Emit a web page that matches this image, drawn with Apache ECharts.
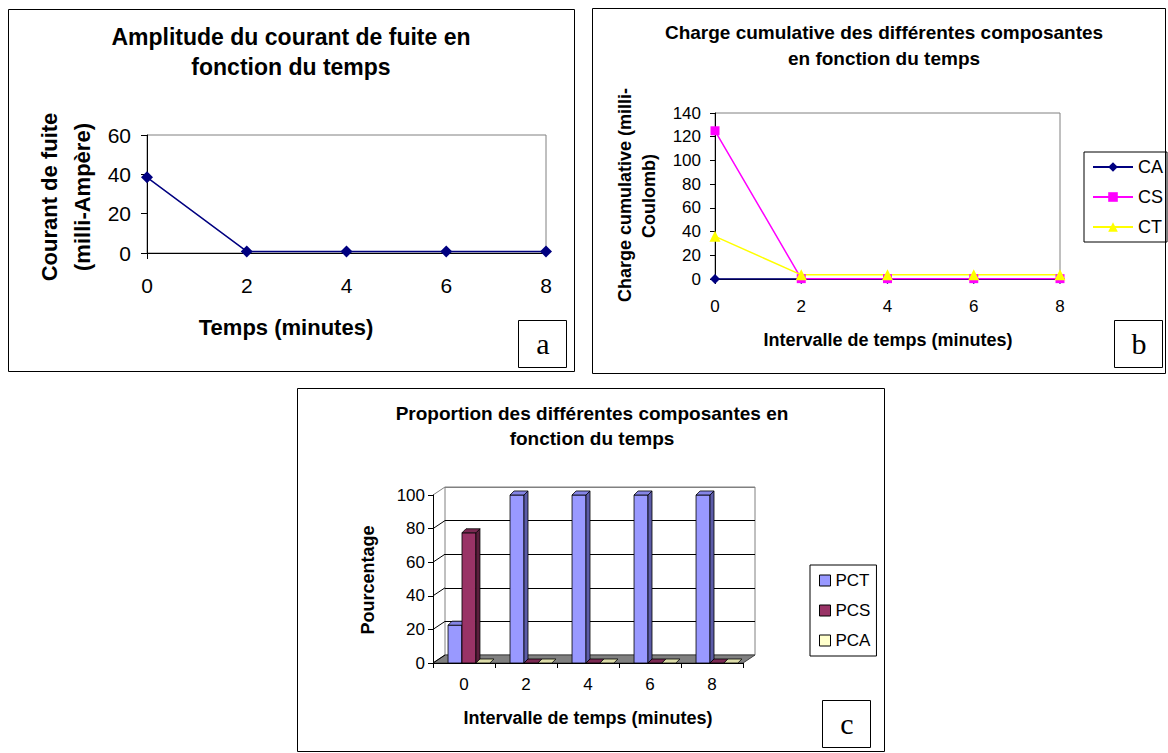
<!DOCTYPE html>
<html><head><meta charset="utf-8">
<script src="https://cdn.jsdelivr.net/npm/echarts@6/dist/echarts.min.js"></script>
<style>html,body{margin:0;padding:0;background:#fff}#c{width:1168px;height:753px}</style>
</head><body><div id="c"></div>
<script>
// ---------- data ----------
const timeLabels = ['0', '2', '4', '6', '8'];
const courantFuite = [38.5, 0.8, 0.8, 0.8, 0.8];
const chargeCA = [0, 0, 0, 0, 0];
const chargeCS = [125, 0.3, 0.3, 0.3, 0.3];
const chargeCT = [36, 3.5, 3.5, 3.5, 3.5];
const propPCT = [22.5, 100, 100, 100, 100];
const propPCS = [77.5, 0, 0, 0, 0];
const propPCA = [0, 0, 0, 0, 0];
const pctTicks = [0, 20, 40, 60, 80, 100];

// ---------- styles ----------
const FONT = '"Liberation Sans", Arial, sans-serif';
const SERIF = '"Liberation Serif", "Times New Roman", serif';
const DX = 12, DY = -8; // 3D wall offset

const chart = echarts.init(document.getElementById('c'), null, {renderer: 'svg'});

function txt(text, x, y, size, bold, rot, family) {
  return {
    type: 'text', x: x, y: y, rotation: rot || 0, z: 10,
    style: {
      text: text, font: (bold ? 'bold ' : '') + size + 'px ' + (family || FONT),
      textAlign: 'center', textVerticalAlign: 'middle', fill: '#000'
    }
  };
}
function box(x, y, w, h) {
  return {type: 'rect', z: 9, shape: {x: x, y: y, width: w, height: h},
    style: {fill: 'none', stroke: '#000', lineWidth: 1}};
}

function wallRender(params, api) {
  const v = api.value(1);
  const cs = params.coordSys;
  const y = api.coord([0, v])[1];
  const children = [];
  if (v === 0) {
    children.push({type: 'polygon', shape: {points: [[cs.x, y], [cs.x + cs.width, y], [cs.x + cs.width + DX, y + DY], [cs.x + DX, y + DY]]},
      style: {fill: '#808080', stroke: '#404040', lineWidth: 1}});
  }
  children.push({type: 'line', shape: {x1: cs.x, y1: y, x2: cs.x + DX, y2: y + DY},
    style: {stroke: v === 100 ? '#808080' : '#000', lineWidth: 1}});
  return {type: 'group', children: children};
}

function barRender(k, col) {
  return function (params, api) {
    const ci = api.value(0), v = api.value(1);
    const base = api.coord([ci, 0]), top = api.coord([ci, v]);
    const band = api.size([1, 0])[0];
    const bw = band * 0.225, d = band * 0.065, shift = band * 0.08;
    const x0 = base[0] - 1.5 * bw + k * bw + shift;
    const yb = base[1], yt = top[1];
    const children = [];
    if (yb - yt > 0.5) {
      children.push({type: 'rect', shape: {x: x0, y: yt, width: bw, height: yb - yt},
        style: {fill: col.front, stroke: '#000', lineWidth: 0.8}});
      children.push({type: 'polygon', shape: {points: [[x0 + bw, yt], [x0 + bw + d, yt - d], [x0 + bw + d, yb - d], [x0 + bw, yb]]},
        style: {fill: col.side, stroke: '#000', lineWidth: 0.8}});
    }
    children.push({type: 'polygon', shape: {points: [[x0, yt], [x0 + d, yt - d], [x0 + bw + d, yt - d], [x0 + bw, yt]]},
      style: {fill: col.top, stroke: '#000', lineWidth: 0.8}});
    return {type: 'group', children: children};
  };
}

const colPCT = {front: '#9999FF', side: '#5C5CA8', top: '#8585E6'};
const colPCS = {front: '#993366', side: '#5A1E3C', top: '#7A2952'};
const colPCA = {front: '#FFFFCC', side: '#A8A880', top: '#DDDDAA'};

const axisBlack = {show: true, lineStyle: {color: '#000', width: 1}};

const option = {
  backgroundColor: '#fff',
  animation: false,
  textStyle: {fontFamily: FONT, color: '#000'},
  grid: [
    {left: 147, top: 135, width: 399, height: 118, show: true, borderColor: '#808080', borderWidth: 1, backgroundColor: 'transparent'},
    {left: 715, top: 113, width: 345, height: 166, show: true, borderColor: '#808080', borderWidth: 1},
    {left: 433, top: 495, width: 310, height: 168},
    {left: 433 + DX, top: 495 + DY, width: 310, height: 168, show: true, borderColor: '#808080', borderWidth: 1}
  ],
  xAxis: [
    {gridIndex: 0, type: 'category', data: timeLabels, boundaryGap: false, axisLine: axisBlack,
      axisTick: {show: true, length: 6, interval: function (i) { return i === 0; }, lineStyle: {color: '#000'}},
      axisLabel: {fontSize: 21, color: '#000', margin: 22}},
    {gridIndex: 1, type: 'category', data: timeLabels, boundaryGap: false, axisLine: axisBlack,
      axisTick: {show: true, length: 5, interval: function (i) { return i === 0; }, lineStyle: {color: '#000'}},
      axisLabel: {fontSize: 17, color: '#000', margin: 19}},
    {gridIndex: 2, type: 'category', data: timeLabels, boundaryGap: true, axisLine: axisBlack,
      axisTick: {show: true, length: 5, lineStyle: {color: '#000'}},
      axisLabel: {fontSize: 17, color: '#000', margin: 13}, z: 5},
    {gridIndex: 3, type: 'category', data: timeLabels, show: false}
  ],
  yAxis: [
    {gridIndex: 0, type: 'value', min: 0, max: 60, interval: 20, axisLine: axisBlack,
      axisTick: {show: true, length: 6, lineStyle: {color: '#000'}}, splitLine: {show: false},
      axisLabel: {fontSize: 21, color: '#000', margin: 16}},
    {gridIndex: 1, type: 'value', min: 0, max: 140, interval: 20, axisLine: axisBlack,
      axisTick: {show: true, length: 5, lineStyle: {color: '#000'}}, splitLine: {show: false},
      axisLabel: {fontSize: 17, color: '#000', margin: 14}},
    {gridIndex: 2, type: 'value', min: 0, max: 100, interval: 20, axisLine: axisBlack,
      axisTick: {show: true, length: 5, lineStyle: {color: '#000'}}, splitLine: {show: false},
      axisLabel: {fontSize: 17, color: '#000', margin: 8}, z: 5},
    {gridIndex: 3, type: 'value', min: 0, max: 100, interval: 20, axisLine: {show: false},
      axisTick: {show: false}, axisLabel: {show: false},
      splitLine: {show: true, lineStyle: {color: ['#808080', '#000', '#000', '#000', '#000', '#808080'], width: 1}}}
  ],
  legend: [
    {data: ['CA', 'CS', 'CT'], orient: 'vertical', left: 1084, top: 152, width: 80,
      backgroundColor: '#fff', borderColor: '#000', borderWidth: 1, padding: [6, 4, 6, 8],
      itemGap: 12, itemWidth: 40, itemHeight: 12, selectedMode: false,
      textStyle: {fontSize: 18, color: '#000', fontFamily: FONT}},
    {data: [
        {name: 'PCT', icon: 'rect', itemStyle: {color: colPCT.front, borderColor: '#000', borderWidth: 1}},
        {name: 'PCS', icon: 'rect', itemStyle: {color: colPCS.front, borderColor: '#000', borderWidth: 1}},
        {name: 'PCA', icon: 'rect', itemStyle: {color: colPCA.front, borderColor: '#000', borderWidth: 1}}
      ], orient: 'vertical', left: 810, top: 565,
      backgroundColor: '#fff', borderColor: '#000', borderWidth: 1, padding: [7, 6, 7, 9],
      itemGap: 13, itemWidth: 11, itemHeight: 11, selectedMode: false,
      textStyle: {fontSize: 17, color: '#000', fontFamily: FONT}}
  ],
  series: [
    {name: 'Courant', type: 'line', xAxisIndex: 0, yAxisIndex: 0, data: courantFuite,
      symbol: 'diamond', symbolSize: 12, lineStyle: {color: '#000080', width: 1.5},
      itemStyle: {color: '#000080'}},
    {name: 'CA', type: 'line', xAxisIndex: 1, yAxisIndex: 1, data: chargeCA,
      symbol: 'diamond', symbolSize: 10, lineStyle: {color: '#000080', width: 1.5},
      itemStyle: {color: '#000080'}},
    {name: 'CS', type: 'line', xAxisIndex: 1, yAxisIndex: 1, data: chargeCS,
      symbol: 'rect', symbolSize: 9, lineStyle: {color: '#FF00FF', width: 1.5},
      itemStyle: {color: '#FF00FF'}},
    {name: 'CT', type: 'line', xAxisIndex: 1, yAxisIndex: 1, data: chargeCT,
      symbol: 'triangle', symbolSize: 11, lineStyle: {color: '#FFFF00', width: 1.5},
      itemStyle: {color: '#FFFF00'}},
    {name: 'walls', type: 'custom', xAxisIndex: 2, yAxisIndex: 2, z: 2,
      data: pctTicks.map(function (v) { return [0, v]; }), renderItem: wallRender, silent: true},
    {name: 'PCT', type: 'custom', xAxisIndex: 2, yAxisIndex: 2, z: 3, itemStyle: {color: colPCT.front},
      data: propPCT.map(function (v, i) { return [i, v]; }), renderItem: barRender(0, colPCT)},
    {name: 'PCS', type: 'custom', xAxisIndex: 2, yAxisIndex: 2, z: 3, itemStyle: {color: colPCS.front},
      data: propPCS.map(function (v, i) { return [i, v]; }), renderItem: barRender(1, colPCS)},
    {name: 'PCA', type: 'custom', xAxisIndex: 2, yAxisIndex: 2, z: 3, itemStyle: {color: colPCA.front},
      data: propPCA.map(function (v, i) { return [i, v]; }), renderItem: barRender(2, colPCA)}
  ],
  graphic: [
    box(8.5, 9.5, 566, 362),
    box(592.5, 8.5, 573, 365),
    box(297.5, 388.5, 587, 363),
    box(518.5, 320.5, 48, 47),
    box(1114.5, 320.5, 48, 47),
    box(822.5, 700.5, 48, 47),
    txt('a', 543, 343, 30, false, 0, SERIF),
    txt('b', 1139, 343, 30, false, 0, SERIF),
    txt('c', 847, 723, 30, false, 0, SERIF),
    txt('Amplitude du courant de fuite en', 291, 37, 23, true),
    txt('fonction du temps', 291, 67, 23, true),
    txt('Temps (minutes)', 286, 327, 22, true),
    txt('Courant de fuite', 49, 197, 22, true, Math.PI / 2),
    txt('(milli-Ampère)', 82, 197, 22, true, Math.PI / 2),
    txt('Charge cumulative des différentes composantes', 884, 32, 19, true),
    txt('en fonction du temps', 884, 58, 19, true),
    txt('Intervalle de temps (minutes)', 888, 340, 18, true),
    txt('Charge cumulative (milli-', 625, 195, 18, true, Math.PI / 2),
    txt('Coulomb)', 649, 196, 18, true, Math.PI / 2),
    txt('Proportion des différentes composantes en', 592, 413, 19, true),
    txt('fonction du temps', 592, 438, 19, true),
    txt('Intervalle de temps (minutes)', 588, 718, 18, true),
    txt('Pourcentage', 368, 580, 18, true, Math.PI / 2)
  ]
};
chart.setOption(option);
</script>
</body></html>
